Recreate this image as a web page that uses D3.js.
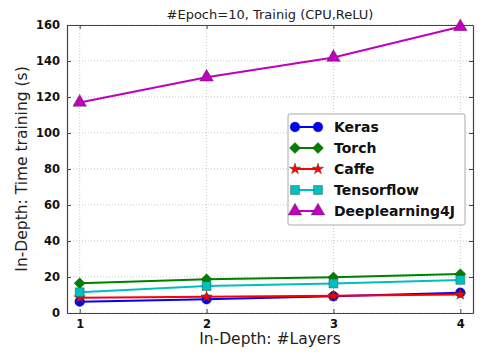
<!DOCTYPE html>
<html>
<head>
<meta charset="utf-8">
<script src="https://cdn.jsdelivr.net/npm/d3@7"></script>
<style>
body { margin: 0; background: #fff; }
text { font-family: "DejaVu Sans", sans-serif; }
</style>
</head>
<body>
<div id="canvas"></div>
<script>
var width = 499,
	height = 355;

var layers = [1, 2, 3, 4];
var seriesNames = ["Keras", "Torch", "Caffe", "Tensorflow", "Deeplearning4J"];
var keras = [6.3, 7.6, 9.3, 11.3];
var torch = [16.5, 18.7, 19.8, 21.6];
var caffe = [8.5, 9.0, 9.6, 10.3];
var tensorflow = [11.5, 15.0, 16.4, 18.4];
var dl4j = [117, 131, 142, 159];
var yTicks = [0, 20, 40, 60, 80, 100, 120, 140, 160];

var colors = ["#0000ff", "#008000", "#ff0000", "#00bfbf", "#bf00bf"];
var symbols = [d3.symbolCircle, d3.symbolSquare, d3.symbolStar, d3.symbolSquare, d3.symbolTriangle];
var sizes = [75, 60, 40, 80, 80];
var rotations = [0, 45, 0, 0, 0];

var series = [keras, torch, caffe, tensorflow, dl4j].map(function(vals, i){
	return { name: seriesNames[i], values: vals };
});

var margin = { left: 67, right: 26, top: 25, bottom: 42 };

var svg = d3.select("#canvas")
	.append("svg")
		.attr("width", width)
		.attr("height", height);

var x = d3.scaleLinear()
	.domain([0.9, 4.1])
	.range([margin.left, width - margin.right]);

var y = d3.scaleLinear()
	.domain([0, 160])
	.range([height - margin.bottom, margin.top]);

// grid
svg.append("g")
	.selectAll("line")
	.data(yTicks)
	.enter()
	.append("line")
		.attr("x1", x.range()[0])
		.attr("x2", x.range()[1])
		.attr("y1", function(d){ return y(d); })
		.attr("y2", function(d){ return y(d); })
		.attr("stroke", "#c8c8c8")
		.attr("stroke-dasharray", "1,2");

svg.append("g")
	.selectAll("line")
	.data(layers)
	.enter()
	.append("line")
		.attr("x1", function(d){ return x(d); })
		.attr("x2", function(d){ return x(d); })
		.attr("y1", y.range()[0])
		.attr("y2", y.range()[1])
		.attr("stroke", "#c8c8c8")
		.attr("stroke-dasharray", "1,2");

// axes, ticks inward like matplotlib
var xAxis = d3.axisBottom(x).tickValues(layers).tickFormat(d3.format("d")).tickSizeInner(-4).tickSizeOuter(0).tickPadding(7);
var yAxis = d3.axisLeft(y).tickValues(yTicks).tickSizeInner(-4).tickSizeOuter(0).tickPadding(7);

svg.append("g")
	.attr("transform", "translate(0," + y.range()[0] + ")")
	.call(xAxis);
svg.append("g")
	.attr("transform", "translate(" + x.range()[0] + ",0)")
	.call(yAxis);

svg.append("g")
	.attr("transform", "translate(0," + y.range()[1] + ")")
	.call(d3.axisTop(x).tickValues(layers).tickFormat("").tickSizeInner(-4).tickSizeOuter(0));
svg.append("g")
	.attr("transform", "translate(" + x.range()[1] + ",0)")
	.call(d3.axisRight(y).tickValues(yTicks).tickFormat("").tickSizeInner(-4).tickSizeOuter(0));

svg.selectAll(".domain").attr("stroke", "#444").attr("stroke-width", 1.2);
svg.selectAll(".tick line").attr("stroke", "#444");
svg.selectAll(".tick text")
	.attr("fill", "#111")
	.style("font-size", "11.5px")
	.style("font-weight", "bold");

// lines
var line = d3.line()
	.x(function(d, i){ return x(layers[i]); })
	.y(function(d){ return y(d); });

var groups = svg.append("g")
	.selectAll("g")
	.data(series)
	.enter()
	.append("g");

groups.append("path")
	.attr("d", function(d){ return line(d.values); })
	.attr("fill", "none")
	.attr("stroke", function(d, i){ return colors[i]; })
	.attr("stroke-width", 2);

groups.each(function(s, si){
	d3.select(this).selectAll(".pt")
		.data(s.values)
		.enter()
		.append("path")
			.attr("class", "pt")
			.attr("transform", function(d, i){
				return "translate(" + x(layers[i]) + "," + y(d) + ") rotate(" + rotations[si] + ")";
			})
			.attr("d", d3.symbol().type(symbols[si]).size(sizes[si]))
			.attr("fill", colors[si])
			.attr("stroke", "#333")
			.attr("stroke-width", 0.4);
});

// title and labels
svg.append("text")
	.attr("x", 270)
	.attr("y", 19)
	.attr("text-anchor", "middle")
	.style("font-size", "13px")
	.attr("fill", "#222")
	.text("#Epoch=10, Trainig (CPU,ReLU)");

svg.append("text")
	.attr("x", 270)
	.attr("y", 344)
	.attr("text-anchor", "middle")
	.style("font-size", "15.5px")
	.attr("fill", "#222")
	.text("In-Depth: #Layers");

svg.append("text")
	.attr("transform", "translate(27," + ((y.range()[0] + y.range()[1]) / 2) + ") rotate(-90)")
	.attr("text-anchor", "middle")
	.style("font-size", "15.5px")
	.attr("fill", "#222")
	.text("In-Depth: Time training (s)");

// legend
var legend = svg.append("g").attr("transform", "translate(288,114)");
legend.append("rect")
	.attr("width", 177)
	.attr("height", 111)
	.attr("rx", 2)
	.attr("fill", "#fff")
	.attr("stroke", "#aaa");

var item = legend.selectAll(".item")
	.data(series)
	.enter()
	.append("g")
		.attr("class", "item")
		.attr("transform", function(d, i){ return "translate(0," + (13 + i * 21) + ")"; });

item.append("line")
	.attr("x1", 7).attr("x2", 30)
	.attr("stroke", function(d, i){ return colors[i]; })
	.attr("stroke-width", 2);

[7, 30].forEach(function(px){
	item.append("path")
		.attr("transform", function(d, i){ return "translate(" + px + ",0) rotate(" + rotations[i] + ")"; })
		.attr("d", function(d, i){ return d3.symbol().type(symbols[i]).size(sizes[i])(); })
		.attr("fill", function(d, i){ return colors[i]; })
		.attr("stroke", "#333")
		.attr("stroke-width", 0.4);
});

item.append("text")
	.attr("x", 46)
	.attr("dy", "0.35em")
	.style("font-size", "14px")
	.style("font-weight", "bold")
	.attr("fill", "#111")
	.text(function(d){ return d.name; });
</script>
</body>
</html>
